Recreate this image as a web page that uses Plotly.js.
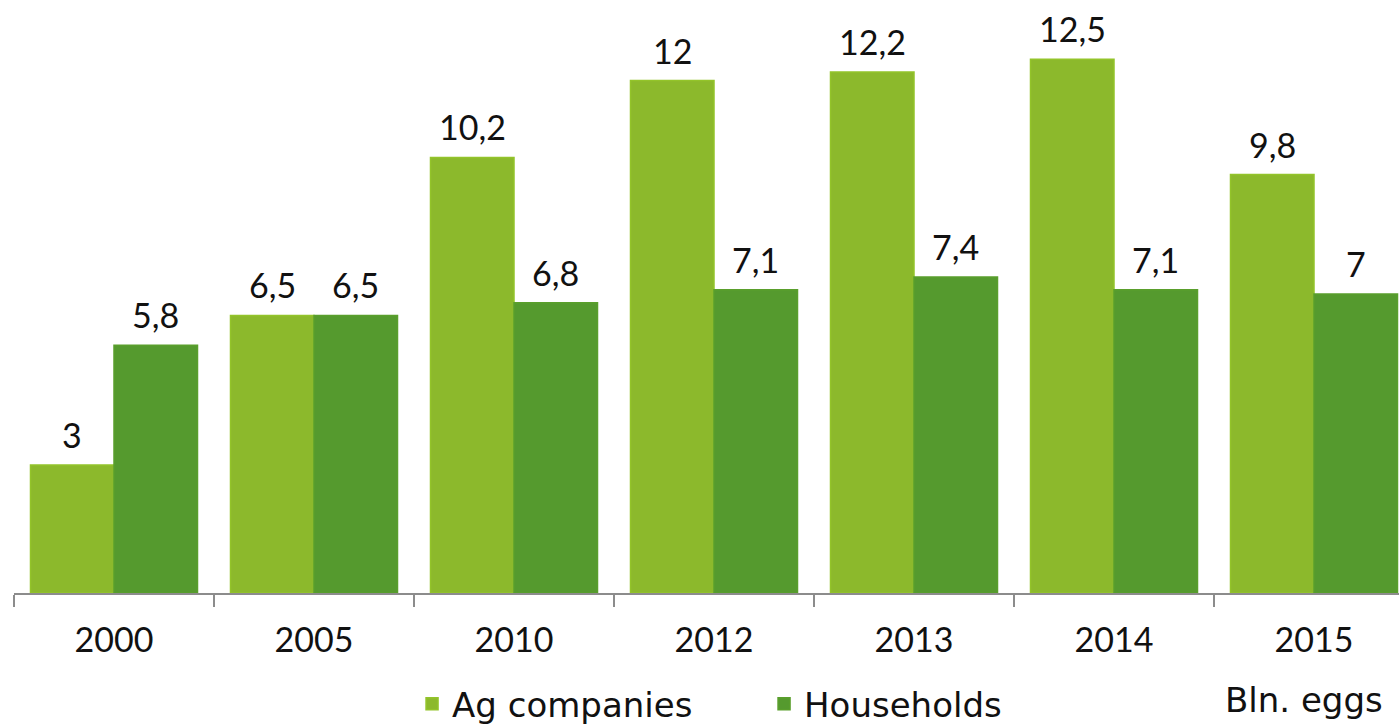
<!DOCTYPE html>
<html>
<head>
<meta charset="utf-8">
<script src="https://cdn.plot.ly/plotly-3.0.1.min.js"></script>
<style>html,body{margin:0;padding:0;background:#fff;}#chart{width:1399px;height:728px;}</style>
</head>
<body>
<div id="chart"></div>
<script>
const years = ['2000', '2005', '2010', '2012', '2013', '2014', '2015'];
const agCompanies = [3, 6.5, 10.2, 12, 12.2, 12.5, 9.8];
const households = [5.8, 6.5, 6.8, 7.1, 7.4, 7.1, 7];
const seriesNames = ['Ag companies', 'Households'];
const unitLabel = 'Bln. eggs';

const fmt = v => String(v).replace('.', ',');
const FONT = 'Lato, "Open Sans", sans-serif';
const WIDE = '"DejaVu Sans", sans-serif';
const BARGAP = 0.165;
const half = (1 - BARGAP) / 4; // offset of each bar centre within its group

const traces = [
  {
    type: 'bar', name: seriesNames[0], x: years, y: agCompanies,
    marker: {color: '#8cb92c', line: {color: '#93c42a', width: 1.5}},
    hoverinfo: 'none'
  },
  {
    type: 'bar', name: seriesNames[1], x: years, y: households,
    marker: {color: '#559a2e', line: {color: '#5a9f2c', width: 1.5}},
    hoverinfo: 'none'
  }
];

const labelAnn = (vals, sign) => vals.map((v, i) => ({
  x: i + sign * half, y: v, xref: 'x', yref: 'y',
  text: fmt(v), showarrow: false, xanchor: 'center', yanchor: 'bottom',
  yshift: 8, font: {family: FONT, size: 34, color: '#111'}
}));

const layout = {
  width: 1399, height: 728,
  margin: {l: 14, r: 0, t: 17, b: 135, autoexpand: false},
  paper_bgcolor: '#fff', plot_bgcolor: '#fff',
  barmode: 'group', bargap: BARGAP, bargroupgap: 0,
  font: {family: FONT, color: '#111'},
  xaxis: {
    type: 'category', range: [-0.5, 6.425], tickson: 'boundaries',
    ticks: 'outside', ticklen: 12, tickwidth: 2, tickcolor: '#8c8c8c',
    showline: true, linecolor: '#8c8c8c', linewidth: 2,
    tickfont: {family: FONT, size: 34, color: '#111'},
    ticklabelstandoff: 16, automargin: false,
    showgrid: false, zeroline: false
  },
  yaxis: {
    range: [0, 13.49], visible: false, showgrid: false, zeroline: false
  },
  showlegend: true,
  legend: {
    orientation: 'h', x: 0.2874, xanchor: 'left', y: -0.193, yanchor: 'middle',
    font: {family: WIDE, size: 34, color: '#111'},
    entrywidth: 307, entrywidthmode: 'pixels',
    traceorder: 'normal'
  },
  annotations: [
    ...labelAnn(agCompanies, -1),
    ...labelAnn(households, 1),
    {
      text: unitLabel, xref: 'paper', yref: 'paper', x: 0.99, y: -0.186,
      xanchor: 'right', yanchor: 'middle', showarrow: false,
      font: {family: WIDE, size: 34, color: '#111'}
    }
  ]
};

Plotly.newPlot('chart', traces, layout, {staticPlot: true, displayModeBar: false});
</script>
</body>
</html>
